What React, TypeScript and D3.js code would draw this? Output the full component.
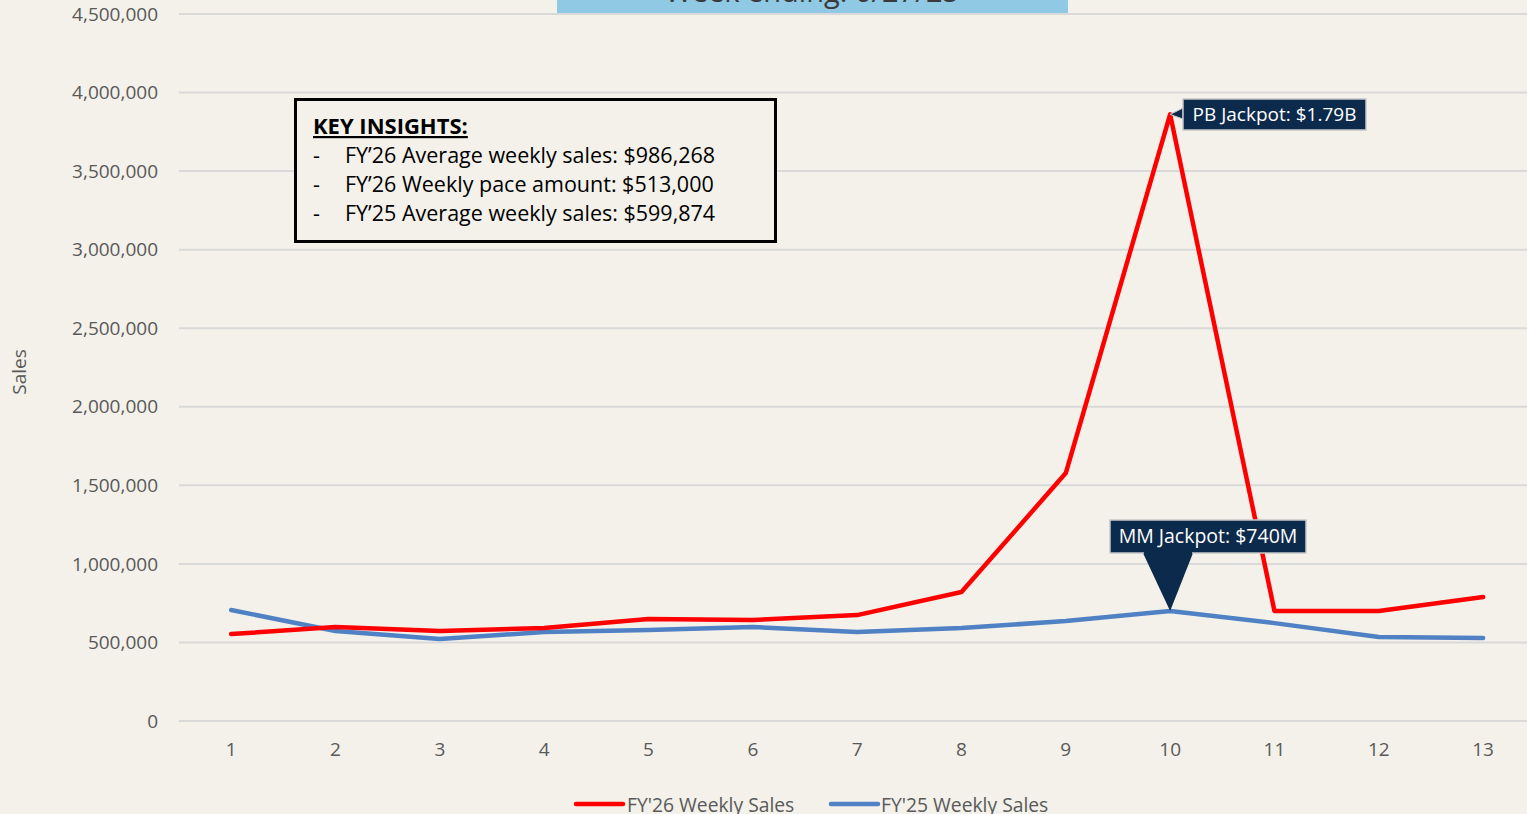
import React from "react";
import * as d3 from "d3";

const weeks = ["1", "2", "3", "4", "5", "6", "7", "8", "9", "10", "11", "12", "13"];
const fy26Sales = [553000, 598000, 573000, 592000, 649000, 643000, 674000, 821000, 1578000, 3861000, 700000, 700000, 789000];
const fy25Sales = [706000, 573000, 522000, 566000, 579000, 598000, 566000, 592000, 636000, 700000, 623000, 534000, 528000];
const yTicks = [0, 500000, 1000000, 1500000, 2000000, 2500000, 3000000, 3500000, 4000000, 4500000];
const insights = [
  "FY\u201926 Average weekly sales: $986,268",
  "FY\u201926 Weekly pace amount: $513,000",
  "FY\u201925 Average weekly sales: $599,874",
];
const seriesNames = ["FY'26 Weekly Sales", "FY'25 Weekly Sales"];
const titleText = "Week ending: 6/27/25";

const W = 1527;
const H = 814;
const FONT = "'Open Sans', 'Noto Sans', sans-serif";
const RED = "#ff0000";
const BLUE = "#4f81c4";
const NAVY = "#0c2a4b";
const GRAY = "#595959";

export default function App() {
  const x = d3.scaleBand().domain(weeks).range([179, 179 + 104.33 * 13]).padding(0);
  const y = d3.scaleLinear().domain([0, 4500000]).range([721, 14]);
  const cx = (w: string) => (x(w) as number) + x.bandwidth() / 2;
  const line = d3
    .line<number>()
    .x((_, i) => cx(weeks[i]))
    .y((d) => y(d));
  const fmt = d3.format(",");

  const pbX = cx("10");
  const pbY = y(fy26Sales[9]);
  const mmX = cx("10");
  const mmY = y(fy25Sales[9]);

  return (
    <svg
      width={W}
      height={H}
      style={{ position: "absolute", left: 0, top: 0, display: "block" }}
      fontFamily={FONT}
    >
      <rect x={0} y={0} width={W} height={H} fill="#f3f1ea" />
      {/* title box, cut off at top */}
      <rect x={557} y={-40} width={511} height={54} fill="#8fc9e4" />
      <text x={812} y={2} textAnchor="middle" fontSize={29} fill="#3a3a3a">
        {titleText}
      </text>

      {/* gridlines */}
      {yTicks.map((t) => (
        <line key={t} x1={179} x2={W} y1={y(t)} y2={y(t)} stroke="#d9d9d9" strokeWidth={2} />
      ))}
      {/* y tick labels */}
      {yTicks.map((t) => (
        <text key={"l" + t} x={158} y={y(t)} dy="0.35em" textAnchor="end" fontSize={19} fill={GRAY}>
          {fmt(t)}
        </text>
      ))}
      {/* x tick labels */}
      {weeks.map((w) => (
        <text key={w} x={cx(w)} y={756} textAnchor="middle" fontSize={19} fill={GRAY}>
          {w}
        </text>
      ))}
      <text
        transform="translate(26,372) rotate(-90)"
        textAnchor="middle"
        fontSize={19}
        fill={GRAY}
      >
        Sales
      </text>

      {/* lines */}
      <path d={line(fy25Sales) || ""} fill="none" stroke={BLUE} strokeWidth={4.5} strokeLinejoin="round" strokeLinecap="round" />
      <path d={line(fy26Sales) || ""} fill="none" stroke={RED} strokeWidth={4.5} strokeLinejoin="round" strokeLinecap="round" />

      {/* Key insights */}
      <rect x={295.5} y={99.5} width={480} height={142} fill="#f3f1ea" stroke="#000" strokeWidth={3} />
      <text x={313} y={134} fontSize={22} fontWeight="bold" fill="#000" textDecoration="underline">
        KEY INSIGHTS:
      </text>
      {insights.map((s, i) => (
        <g key={s}>
          <text x={313} y={163 + i * 29} fontSize={21.5} fill="#000">-</text>
          <text x={345} y={163 + i * 29} fontSize={21.5} fill="#000">{s}</text>
        </g>
      ))}

      {/* PB annotation */}
      <path
        d={`M${pbX},${pbY} L1183,${108} L1183,${119} Z`}
        fill={NAVY}
        stroke="#c8c8c8"
        strokeWidth={1}
      />
      <rect x={1183} y={99} width={183} height={31} fill={NAVY} stroke="#c8c8c8" strokeWidth={1.5} />
      <text x={1274.5} y={121} textAnchor="middle" fontSize={19} fill="#fff">
        PB Jackpot: $1.79B
      </text>

      {/* MM annotation */}
      <path d={`M1143,553 L${mmX},${mmY} L1193,553 Z`} fill={NAVY} />
      <rect x={1110} y={520} width={196} height={33} fill={NAVY} stroke="#c8c8c8" strokeWidth={1.5} />
      <path d={`M1144,553 L1192,553`} stroke={NAVY} strokeWidth={2} />
      <text x={1208} y={543} textAnchor="middle" fontSize={19.5} fill="#fff">
        MM Jackpot: $740M
      </text>

      {/* legend */}
      <line x1={576} x2={623} y1={804} y2={804} stroke={RED} strokeWidth={4.5} strokeLinecap="round" />
      <text x={627} y={812} fontSize={19.3} fill={GRAY}>{seriesNames[0]}</text>
      <line x1={831} x2={878} y1={804} y2={804} stroke={BLUE} strokeWidth={4.5} strokeLinecap="round" />
      <text x={881} y={812} fontSize={19.3} fill={GRAY}>{seriesNames[1]}</text>
    </svg>
  );
}
